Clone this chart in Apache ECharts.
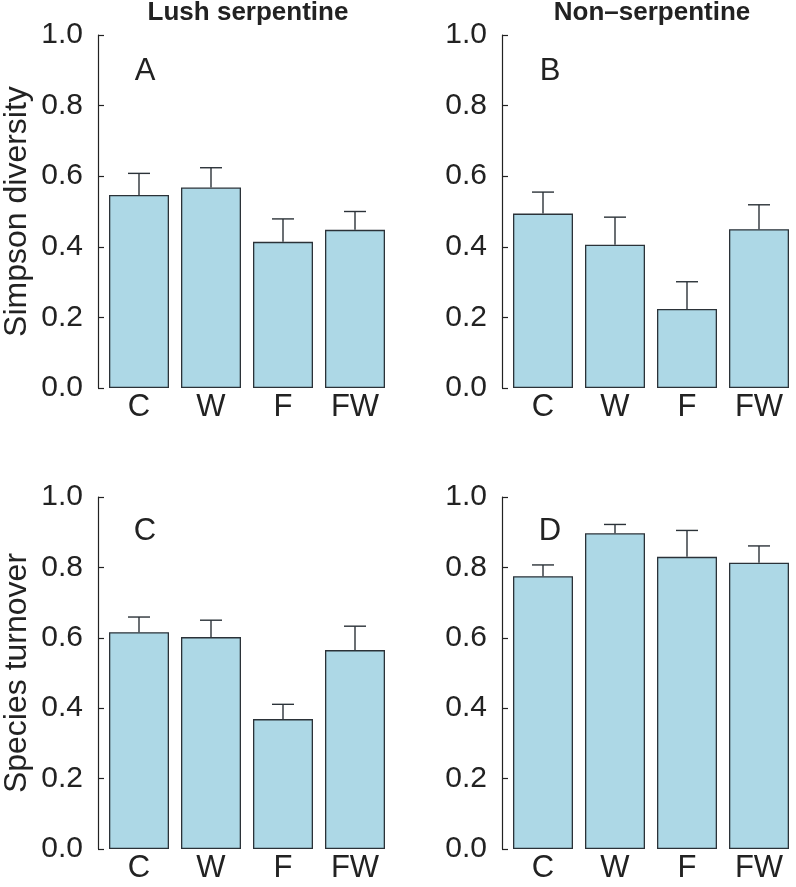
<!DOCTYPE html>
<html>
<head>
<meta charset="utf-8">
<script src="https://cdn.jsdelivr.net/npm/echarts@6/dist/echarts.min.js"></script>
<style>
html,body{margin:0;padding:0;background:#fff;}
#chart{width:796px;height:887px;}
</style>
</head>
<body>
<div id="chart"></div>
<script>
// ---- data ----
const categories = ['C', 'W', 'F', 'FW'];
const yTicks = [0, 0.2, 0.4, 0.6, 0.8, 1.0];

const simpsonLush = [0.547, 0.568, 0.414, 0.448];
const simpsonLushSE = [0.061, 0.056, 0.065, 0.052];

const simpsonNon = [0.494, 0.406, 0.224, 0.450];
const simpsonNonSE = [0.061, 0.078, 0.077, 0.069];

const turnoverLush = [0.616, 0.602, 0.369, 0.565];
const turnoverLushSE = [0.043, 0.048, 0.042, 0.068];

const turnoverNon = [0.775, 0.897, 0.830, 0.813];
const turnoverNonSE = [0.032, 0.025, 0.075, 0.048];

const panelLetters = ['A', 'B', 'C', 'D'];
const columnTitles = ['Lush serpentine', 'Non\u2013serpentine'];
const rowTitles = ['Simpson diversity', 'Species turnover'];

// ---- chart ----
const FONT = '"Liberation Sans", Arial, Helvetica, sans-serif';
const TXT = '#222';
const panels = [
  { means: simpsonLush, se: simpsonLushSE, left: 103, top: 35, height: 353, yName: rowTitles[0] },
  { means: simpsonNon, se: simpsonNonSE, left: 507, top: 35, height: 353, yName: '' },
  { means: turnoverLush, se: turnoverLushSE, left: 103, top: 497, height: 352, yName: rowTitles[1] },
  { means: turnoverNon, se: turnoverNonSE, left: 507, top: 497, height: 352, yName: '' }
];

const grid = [], xAxis = [], yAxis = [], series = [];
panels.forEach((p, i) => {
  grid.push({ left: p.left, top: p.top, width: 288, height: p.height, containLabel: false });
  xAxis.push({
    type: 'category', gridIndex: i, data: categories,
    axisLine: { show: false }, axisTick: { show: false },
    axisLabel: { fontFamily: FONT, fontSize: 31, color: TXT, margin: 4 }
  });
  yAxis.push({
    type: 'value', gridIndex: i, min: 0, max: 1, interval: 0.2, offset: 5,
    name: p.yName, nameLocation: 'middle', nameGap: 65,
    nameTextStyle: { fontFamily: FONT, fontSize: 32, color: TXT },
    axisLine: { show: true, lineStyle: { color: TXT, width: 1.2 } },
    axisTick: { show: true, inside: true, length: 6, lineStyle: { color: TXT, width: 1.2 } },
    splitLine: { show: false },
    axisLabel: { fontFamily: FONT, fontSize: 30, color: TXT, margin: 15,
      formatter: v => v.toFixed(1) }
  });
  series.push({
    type: 'bar', xAxisIndex: i, yAxisIndex: i, data: p.means,
    barWidth: 60,
    itemStyle: { color: '#ADD8E6', borderColor: '#2b3238', borderWidth: 1.3 },
    silent: true, animation: false
  });
  series.push({
    type: 'custom', xAxisIndex: i, yAxisIndex: i,
    data: p.means.map((m, k) => [k, m, p.se[k]]),
    renderItem: function (params, api) {
      const x = api.value(0), m = api.value(1), s = api.value(2);
      const p0 = api.coord([x, m]);
      const p1 = api.coord([x, m + s]);
      const st = { stroke: '#2b3238', lineWidth: 1.4 };
      return {
        type: 'group',
        children: [
          { type: 'line', shape: { x1: p0[0], y1: p0[1], x2: p1[0], y2: p1[1] }, style: st },
          { type: 'line', shape: { x1: p1[0] - 11, y1: p1[1], x2: p1[0] + 11, y2: p1[1] }, style: st }
        ]
      };
    },
    z: 5, silent: true, animation: false
  });
});

const graphic = [
  { type: 'text', x: 248, y: 13, style: { text: columnTitles[0], font: 'bold 26px ' + FONT, fill: TXT, textAlign: 'center', textVerticalAlign: 'middle' } },
  { type: 'text', x: 652, y: 13, style: { text: columnTitles[1], font: 'bold 26px ' + FONT, fill: TXT, textAlign: 'center', textVerticalAlign: 'middle' } },
  { type: 'text', x: 145, y: 71, style: { text: panelLetters[0], font: '31px ' + FONT, fill: TXT, textAlign: 'center', textVerticalAlign: 'middle' } },
  { type: 'text', x: 550, y: 71, style: { text: panelLetters[1], font: '31px ' + FONT, fill: TXT, textAlign: 'center', textVerticalAlign: 'middle' } },
  { type: 'text', x: 145, y: 531, style: { text: panelLetters[2], font: '31px ' + FONT, fill: TXT, textAlign: 'center', textVerticalAlign: 'middle' } },
  { type: 'text', x: 550, y: 531, style: { text: panelLetters[3], font: '31px ' + FONT, fill: TXT, textAlign: 'center', textVerticalAlign: 'middle' } }
];

const chart = echarts.init(document.getElementById('chart'), null, { renderer: 'canvas' });
chart.setOption({
  backgroundColor: '#fff',
  animation: false,
  grid, xAxis, yAxis, series, graphic
});
</script>
</body>
</html>
